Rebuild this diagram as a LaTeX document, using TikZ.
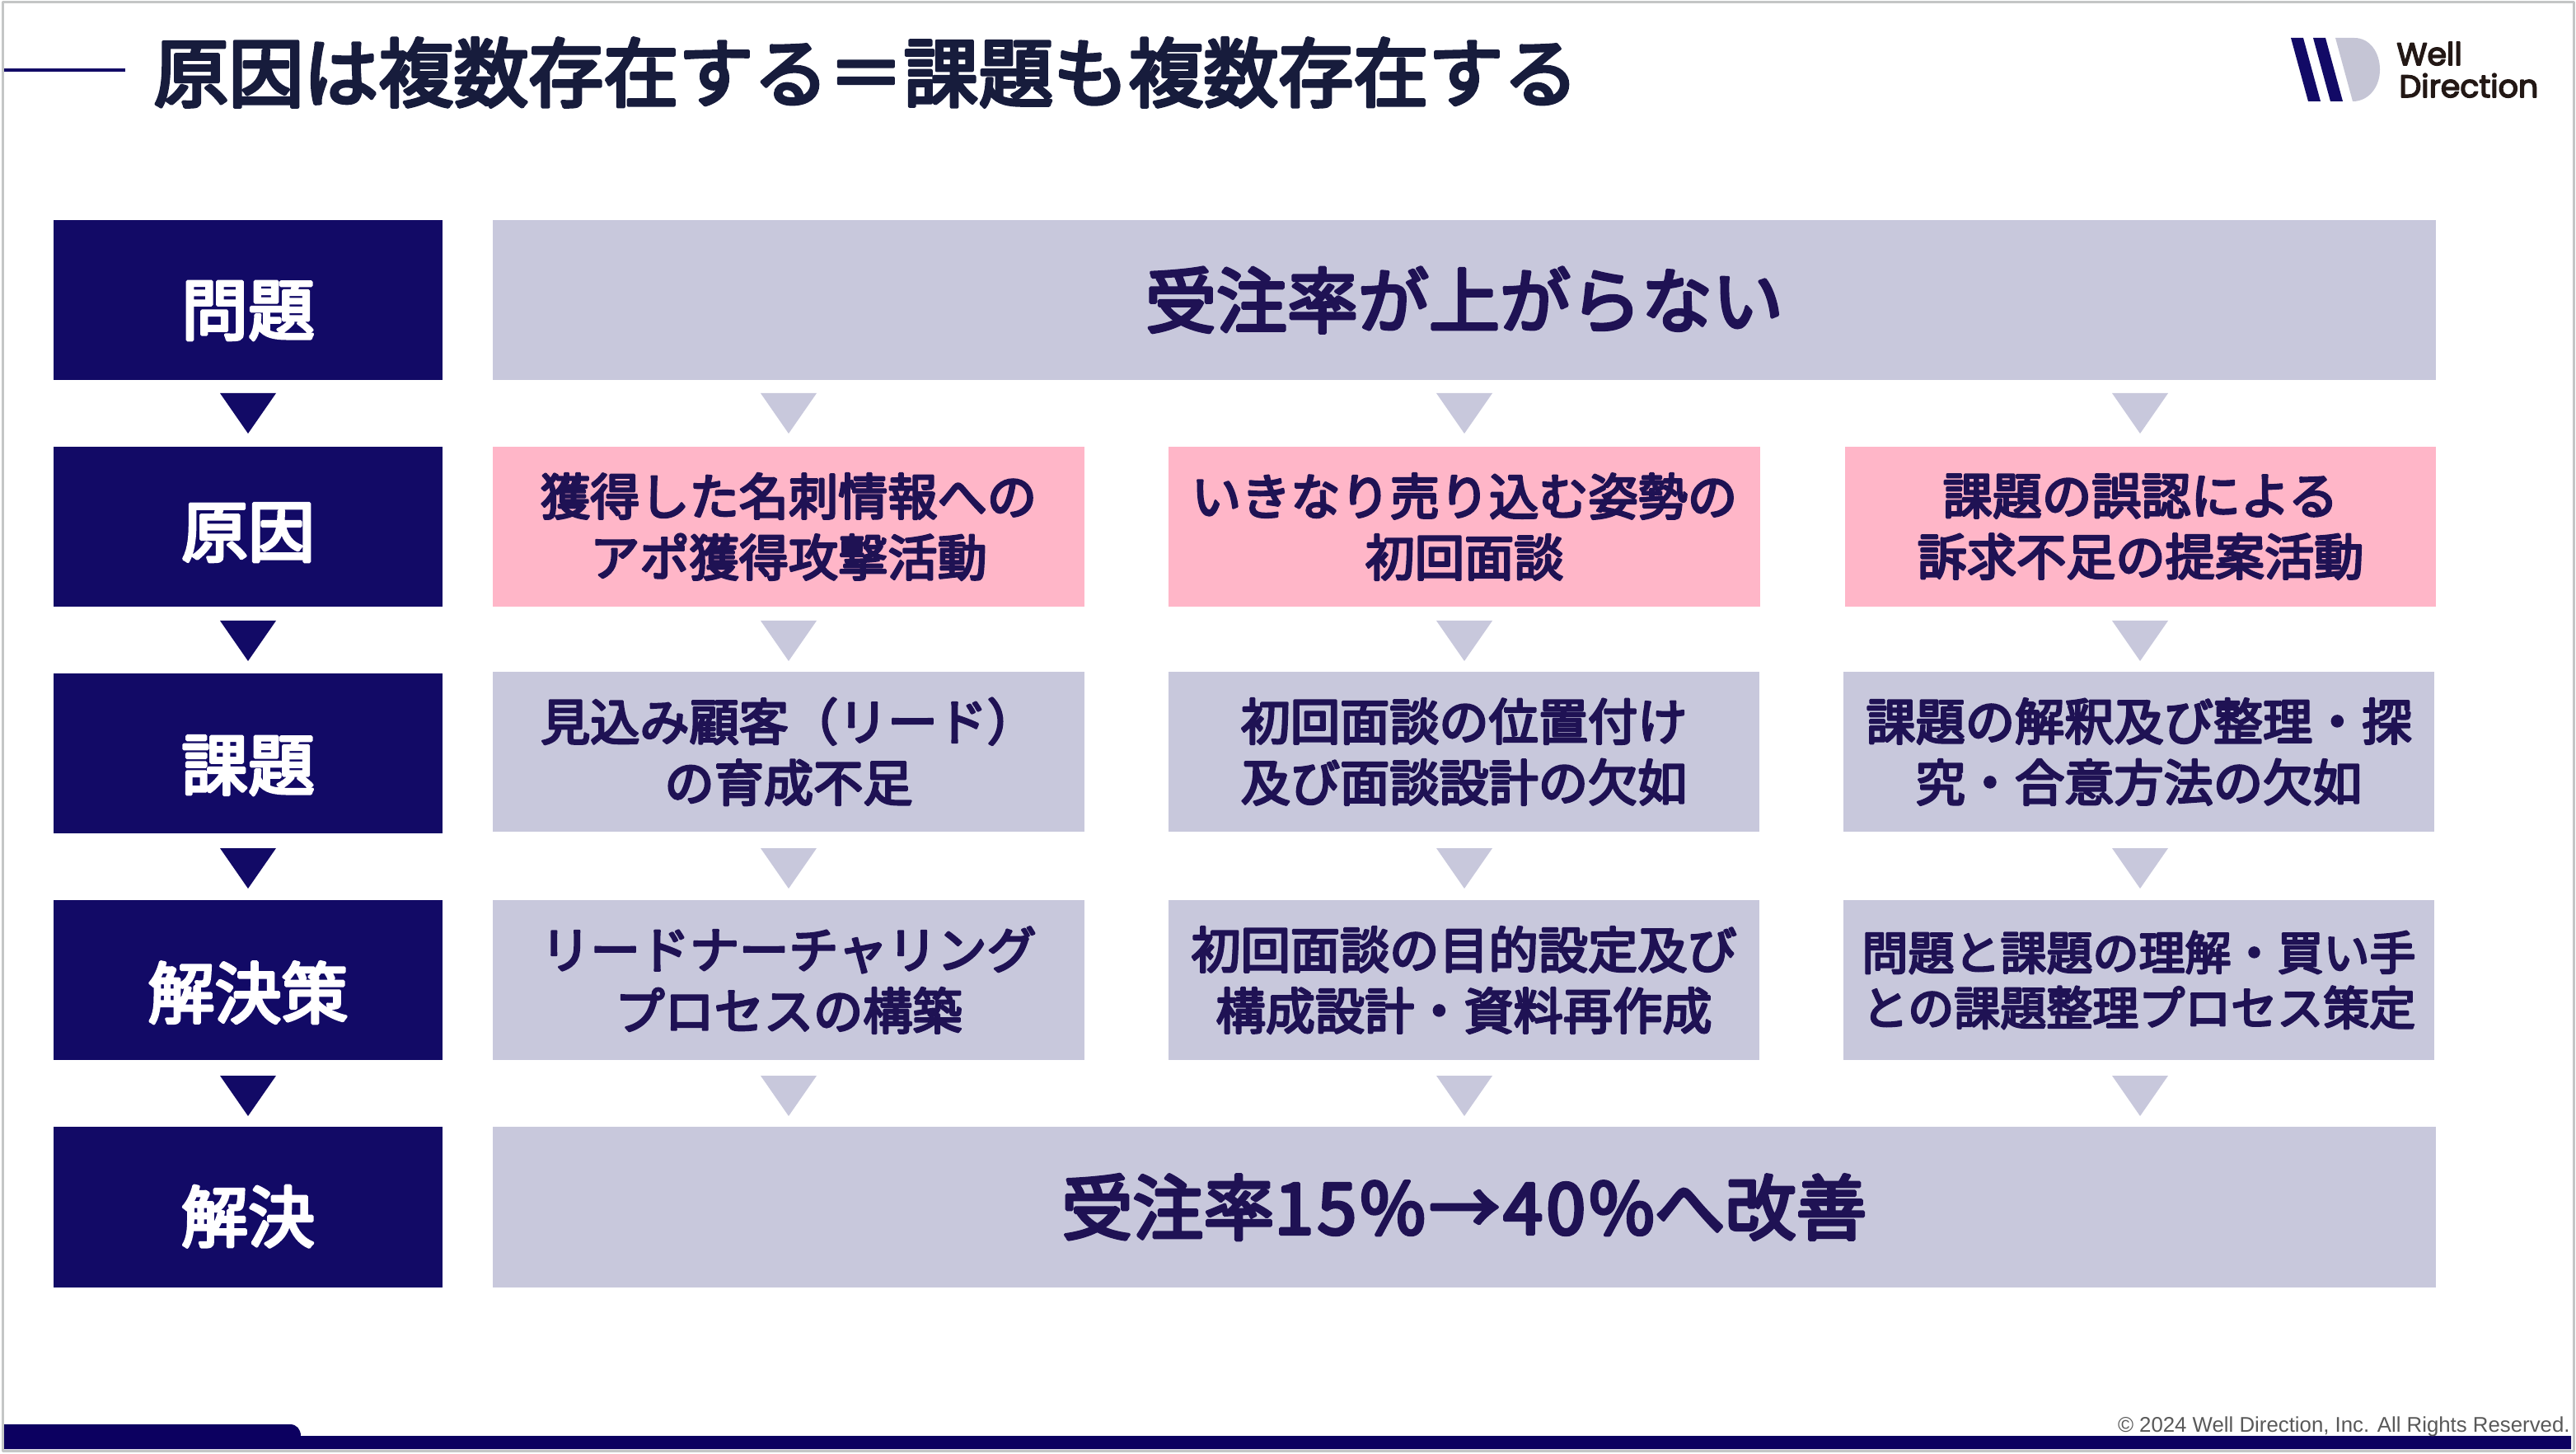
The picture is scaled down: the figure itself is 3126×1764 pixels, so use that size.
\documentclass[tikz,border=0pt]{standalone}
\usepackage{fontspec}
\setmainfont{Liberation Sans}
\newfontfamily\jp[FakeBold=4.5]{Noto Sans CJK JP}
\newfontfamily\logofont{Poppins}[FakeBold=4]
\definecolor{navy}{HTML}{120A66}
\definecolor{barnavy}{HTML}{0C0060}
\definecolor{lav}{HTML}{C8C8DC}
\definecolor{rose}{HTML}{FFB6C8}
\definecolor{ink}{HTML}{1F1254}
\definecolor{titleink}{HTML}{171C3C}
\definecolor{framegray}{HTML}{C4C6C6}
\definecolor{logogray}{HTML}{C5C5D5}
\definecolor{logoink}{HTML}{231815}
\definecolor{noteink}{HTML}{595959}
\tikzset{
  cell/.style={inner sep=0pt,outer sep=0pt,align=center,text=ink,font=\jp\fontsize{30.1}{37}\selectfont},
  head/.style={cell,fill=navy,text=white,font=\jp\fontsize{40.5}{48}\selectfont,text height={40pt+#1},text depth={10pt-#1}},
  graycell/.style={cell,fill=lav},
  pinkcell/.style={cell,fill=rose},
  tight/.style={font=\jp\fontsize{28}{33.5}\selectfont},
  banner/.style={cell,fill=lav,font=\jp\fontsize{43}{50}\selectfont},
}
\newcommand{\bx}[7]{\node[#2,minimum width={(#5-#3)*0.5pt},minimum height={(#6-#4)*0.5pt}] (#1) at ({(#3+#5)/2},{(#4+#6)/2}) {#7};}
\newcommand{\tri}[4]{\coordinate (#1) at (#3,#4); \fill[#2] (#1) ++(-34,0) -- ++(68,0) -- ++(-34,49) -- cycle;}
\begin{document}
\begin{tikzpicture}[x=0.5pt,y=-0.5pt,line join=round,line cap=round]
\useasboundingbox (0,0) rectangle (3126,1764);
\fill[white] (0,0) rectangle (3126,1764);
\draw[framegray,line width=1.5pt,line cap=butt] (3,3) rectangle (3123,1760);
% title
\coordinate (ruleL) at (5,85);
\coordinate (ruleR) at (152,85);
\draw[navy,line width=1.8pt,line cap=butt] (ruleL) -- (ruleR);
\node[inner sep=0pt,anchor=west,text=titleink,font=\jp\fontsize{45.5}{50}\selectfont] (title) at (186,88) {原因は複数存在する＝課題も複数存在する};
% logo
\fill[navy] (2780,46) -- (2795,46) -- (2816,123) -- (2801,123) -- cycle;
\fill[navy] (2807,46) -- (2822,46) -- (2843,123) -- (2828,123) -- cycle;
\fill[logogray] (2834,46) -- (2857,46) .. controls (2876,46) and (2888,64) .. (2888,84.5) .. controls (2888,106) and (2874,123) .. (2855,123) -- cycle;
\node[inner sep=0pt,anchor=base west,text=logoink,font=\logofont\fontsize{19}{20}\selectfont] (logoA) at (2908,79) {Well};
\node[inner sep=0pt,anchor=base west,text=logoink,font=\logofont\fontsize{19}{20}\selectfont] (logoB) at (2911,118) {Direction};
% heads
\bx{h1}{head=6pt}{65}{267}{537}{461}{問題}
\bx{h2}{head=3pt}{65}{542}{537}{736}{原因}
\bx{h3}{head=7pt}{65}{817}{537}{1011}{課題}
\bx{h4}{head=8pt}{65}{1092}{537}{1286}{解決策}
\bx{h5}{head=6pt}{65}{1367}{537}{1562}{解決}
% banners
\bx{top}{banner}{598}{267}{2956}{461}{受注率が上がらない}
\bx{bot}{banner}{598}{1367}{2956}{1562}{受注率{\addfontfeature{LetterSpace=5}15\%→40\%}へ改善}
% causes
\bx{c1}{pinkcell}{598}{542}{1316}{736}{獲得した名刺情報への\\アポ獲得攻撃活動}
\bx{c2}{pinkcell}{1418}{542}{2136}{736}{いきなり売り込む姿勢の\\初回面談}
\bx{c3}{pinkcell}{2239}{542}{2956}{736}{課題の誤認による\\訴求不足の提案活動}
% issues
\bx{i1}{graycell}{598}{815}{1316}{1009}{見込み顧客（リード）\\の育成不足}
\bx{i2}{graycell}{1418}{815}{2135}{1009}{初回面談の位置付け\\及び面談設計の欠如}
\bx{i3}{graycell}{2237}{815}{2954}{1009}{課題の解釈及び整理・探\\究・合意方法の欠如}
% measures
\bx{s1}{graycell}{598}{1092}{1316}{1286}{リードナーチャリング\\プロセスの構築}
\bx{s2}{graycell}{1418}{1092}{2135}{1286}{初回面談の目的設定及び\\構成設計・資料再作成}
\bx{s3}{graycell,tight}{2237}{1092}{2954}{1286}{問題と課題の理解・買い手\\との課題整理プロセス策定}
% navy arrows
\tri{na1}{navy}{301}{477}
\tri{na2}{navy}{301}{753}
\tri{na3}{navy}{301}{1029}
\tri{na4}{navy}{301}{1305}
% lavender arrows
\foreach \cx/\n in {957/a,1777/b,2597/c}{
  \tri{g1\n}{lav}{\cx}{477}
  \tri{g2\n}{lav}{\cx}{753}
  \tri{g3\n}{lav}{\cx}{1029}
  \tri{g4\n}{lav}{\cx}{1305}
}
% footer
\fill[barnavy] (5,1758) -- (5,1728) -- (352,1728) .. controls (360,1728) and (365,1734) .. (365,1742) -- (3120,1742) -- (3120,1758) -- cycle;
\node[inner sep=0pt,anchor=base east,text=noteink,font=\fontsize{12.9}{14}\selectfont] (copy) at (3119,1737) {© 2024 Well Direction, Inc. All Rights Reserved.};
\end{tikzpicture}
\end{document}
